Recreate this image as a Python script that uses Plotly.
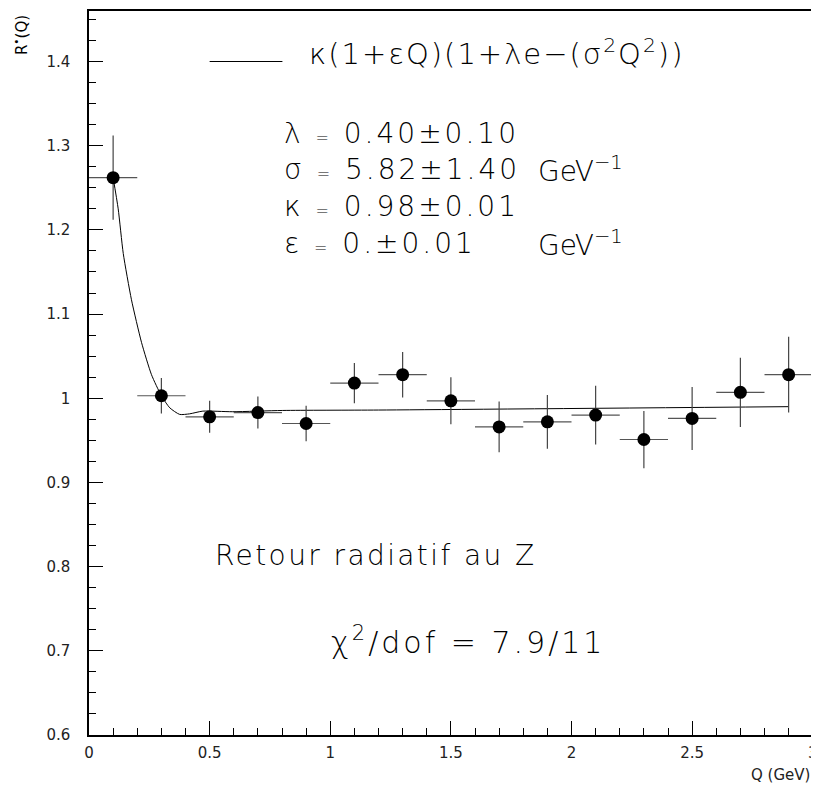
import plotly.graph_objects as go

# Data points
q_vals = [0.1, 0.3, 0.5, 0.7, 0.9, 1.1, 1.3, 1.5, 1.7, 1.9, 2.1, 2.3, 2.5, 2.7, 2.9]
r_vals = [1.262, 1.003, 0.978, 0.983, 0.970, 1.018, 1.028, 0.997, 0.966, 0.972,
          0.980, 0.951, 0.976, 1.007, 1.028]
r_errs = [0.050, 0.021, 0.019, 0.019, 0.021, 0.024, 0.027, 0.028, 0.030, 0.032,
          0.035, 0.034, 0.0375, 0.041, 0.045]
q_half_width = 0.1

# Fit curve
fit_q = [0.1, 0.121, 0.142, 0.176, 0.218, 0.259, 0.3, 0.335, 0.376, 0.417,
         0.472, 0.596, 0.803, 1.2, 2.9]
fit_r = [1.262, 1.225, 1.172, 1.117, 1.066, 1.028, 1.003, 0.9886, 0.9808, 0.9815,
         0.9847, 0.984, 0.9855, 0.986, 0.990]

x_ticks = [0, 0.5, 1, 1.5, 2, 2.5, 3]
y_ticks = [0.6, 0.7, 0.8, 0.9, 1.0, 1.1, 1.2, 1.3, 1.4]

FONT = "DejaVu Sans"
W = 200  # light weight
LS = "letter-spacing:3px"

fig = go.Figure()

fig.add_trace(go.Scatter(
    x=fit_q, y=fit_r, mode="lines",
    line=dict(color="black", width=1, shape="spline", smoothing=0.6),
    hoverinfo="skip", showlegend=False,
))

fig.add_trace(go.Scatter(
    x=q_vals, y=r_vals, mode="markers",
    marker=dict(color="black", size=13),
    error_y=dict(type="data", array=r_errs, color="#444", thickness=1.2, width=0),
    error_x=dict(type="constant", value=q_half_width, color="#555", thickness=1.2, width=0),
    showlegend=False,
))

axis_common = dict(
    showgrid=False, zeroline=False, showline=True, linecolor="black", linewidth=1.5,
    mirror=True, ticks="inside", ticklen=14, tickwidth=1.3, tickcolor="black",
    tickfont=dict(family=FONT, size=15, color="#222"),
    ticklabeloverflow="allow",
)

fig.update_xaxes(
    range=[0, 3.001], tickvals=x_ticks, ticktext=[f"{v:g}" for v in x_ticks],
    minor=dict(dtick=0.1, tick0=0, ticklen=7, ticks="inside", tickwidth=1.2, tickcolor="black"),
    ticklabelstandoff=3,
    **axis_common,
)
fig.update_yaxes(
    range=[0.6, 1.46], tickvals=y_ticks, ticktext=[f"{v:g}" for v in y_ticks],
    minor=dict(dtick=0.025, tick0=0.6, ticklen=7, ticks="inside", tickwidth=1.2, tickcolor="black"),
    ticklabelstandoff=14,
    **axis_common,
)

# legend sample line
fig.add_shape(type="line", xref="x", yref="y", x0=0.5, x1=0.8017, y0=1.4, y1=1.4,
              line=dict(color="black", width=1))

def ann(text, x, y, size, xanchor="left", xref="x", yref="y", textangle=0, weight=W):
    fig.add_annotation(text=text, x=x, y=y, xref=xref, yref=yref, showarrow=False,
                       xanchor=xanchor, yanchor="middle", textangle=textangle,
                       font=dict(family=FONT, size=size, color="black", weight=weight))

ann("<span style='letter-spacing:2px'>κ(1+εQ)(1+λe−(σ<sup>2</sup>Q<sup>2</sup>))</span>",
    0.905, 1.411, 29)

pl = 0.8017
ann(f"<span style='{LS}'>λ <span style='font-size:16px'>=</span> 0.40±0.10</span>", pl, 1.3144, 28)
ann(f"<span style='{LS}'>σ <span style='font-size:16px'>=</span> 5.82±1.40</span>", pl, 1.2714, 28)
ann(f"<span style='{LS}'>κ <span style='font-size:16px'>=</span> 0.98±0.01</span>", pl, 1.2276, 28)
ann(f"<span style='{LS}'>ε <span style='font-size:16px'>=</span> 0.±0.01</span>", pl, 1.1841, 28)
ann("GeV<sup>−1</sup>", 1.851, 1.2714, 28)
ann("GeV<sup>−1</sup>", 1.851, 1.1841, 28)

ann("<span style='letter-spacing:2.4px'>Retour radiatif au Z</span>", 0.512, 0.813, 28)
ann(f"<span style='{LS}'>χ<sup>2</sup>/dof = 7.9/11</span>", 0.996, 0.712, 30)

# axis titles
ann("R<sup>•</sup>(Q)", -0.095, 0.967, 15, xanchor="center", xref="paper", yref="paper",
    textangle=-90, weight="normal")
fig.add_annotation(text="Q (GeV)", x=0.998, y=-0.055, xref="paper", yref="paper",
                   showarrow=False, xanchor="right", yanchor="middle",
                   font=dict(family=FONT, size=15, color="#222"))

# the page body adds an 8px margin, so the figure is sized to compensate
fig.update_layout(
    width=811, height=783,
    margin=dict(l=81, r=4, t=1, b=56),
    paper_bgcolor="white", plot_bgcolor="white",
    showlegend=False,
)

fig.write_html("out.html")
